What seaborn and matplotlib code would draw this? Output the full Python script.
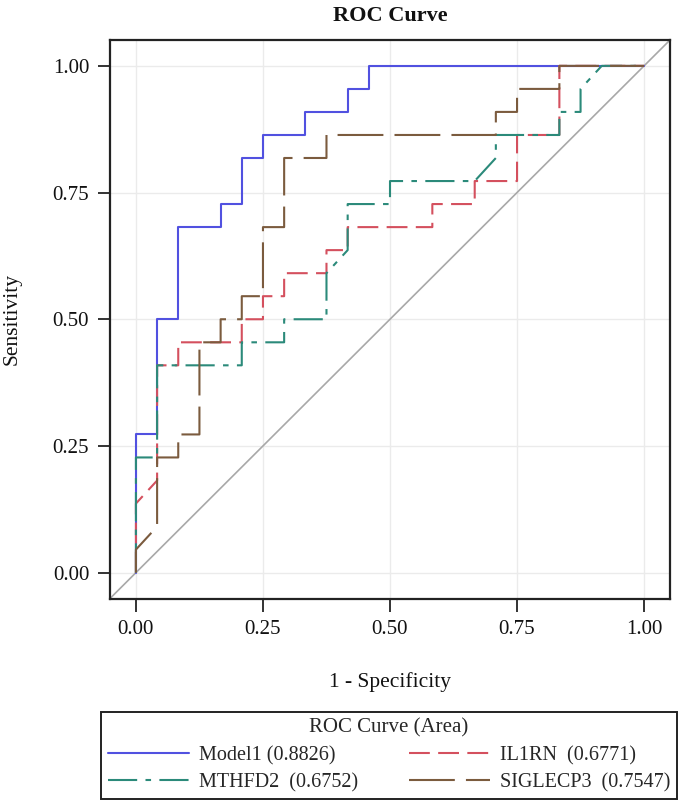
import numpy as np
import pandas as pd
import matplotlib
matplotlib.use("Agg")
import matplotlib.pyplot as plt
import seaborn as sns

# ---- data (ROC curve vertices) ----
model1_fpr = [0, 0, 0.0417, 0.0417, 0.0833, 0.0833, 0.1667, 0.1667, 0.2083, 0.2083,
              0.25, 0.25, 0.3333, 0.3333, 0.4167, 0.4167, 0.4583, 0.4583, 1]
model1_tpr = [0, 0.2727, 0.2727, 0.5, 0.5, 0.6818, 0.6818, 0.7273, 0.7273, 0.8182,
              0.8182, 0.8636, 0.8636, 0.9091, 0.9091, 0.9545, 0.9545, 1, 1]

il1rn_fpr = [0, 0, 0.0417, 0.0417, 0.0833, 0.0833, 0.2083, 0.2083, 0.25, 0.25,
             0.2917, 0.2917, 0.375, 0.375, 0.4167, 0.4167, 0.5833, 0.5833, 0.6667,
             0.6667, 0.75, 0.75, 0.8333, 0.8333, 1]
il1rn_tpr = [0, 0.1364, 0.1818, 0.4091, 0.4091, 0.4545, 0.4545, 0.5, 0.5, 0.5455,
             0.5455, 0.5909, 0.5909, 0.6364, 0.6364, 0.6818, 0.6818, 0.7273, 0.7273,
             0.7727, 0.7727, 0.8636, 0.8636, 1, 1]

mthfd2_fpr = [0, 0, 0.0417, 0.0417, 0.2083, 0.2083, 0.2917, 0.2917, 0.375, 0.375,
              0.4167, 0.4167, 0.5, 0.5, 0.6667, 0.7083, 0.7083, 0.8333, 0.8333,
              0.875, 0.875, 0.9167, 1]
mthfd2_tpr = [0, 0.2273, 0.2273, 0.4091, 0.4091, 0.4545, 0.4545, 0.5, 0.5, 0.5909,
              0.6364, 0.7273, 0.7273, 0.7727, 0.7727, 0.8182, 0.8636, 0.8636, 0.9091,
              0.9091, 0.9545, 1, 1]

siglecp3_fpr = [0, 0, 0.0417, 0.0417, 0.0833, 0.0833, 0.125, 0.125, 0.1667, 0.1667,
                0.2083, 0.2083, 0.25, 0.25, 0.2917, 0.2917, 0.375, 0.375, 0.7083,
                0.7083, 0.75, 0.75, 0.8333, 0.8333, 1]
siglecp3_tpr = [0, 0.0455, 0.0909, 0.2273, 0.2273, 0.2727, 0.2727, 0.4545, 0.4545, 0.5,
                0.5, 0.5455, 0.5455, 0.6818, 0.6818, 0.8182, 0.8182, 0.8636, 0.8636,
                0.9091, 0.9091, 0.9545, 0.9545, 1, 1]

labels = ["Model1 (0.8826)", "IL1RN  (0.6771)", "MTHFD2  (0.6752)", "SIGLECP3  (0.7547)"]
ticks = [0.00, 0.25, 0.50, 0.75, 1.00]
tick_labels = ["0.00", "0.25", "0.50", "0.75", "1.00"]

series = [
    (model1_fpr, model1_tpr, labels[0], "#5151E0", "-"),
    (il1rn_fpr, il1rn_tpr, labels[1], "#D4505E", (0, (15, 6))),
    (mthfd2_fpr, mthfd2_tpr, labels[2], "#2B8A7A", (0, (21, 6, 4, 6))),
    (siglecp3_fpr, siglecp3_tpr, labels[3], "#7B5B3E", (0, (33, 8))),
]

# ---- style ----
sns.set_style("white")
plt.rcParams["font.family"] = ["Liberation Serif", "DejaVu Serif"]
plt.rcParams["lines.scale_dashes"] = False

fig = plt.figure(figsize=(6.85, 8.06), dpi=100)
ax = fig.add_axes([110 / 685, 1 - 599 / 806, 560 / 685, 559.5 / 806])

ax.set_xlim(-0.051, 1.051)
ax.set_ylim(-0.052, 1.052)

for t in ticks:
    ax.axvline(t, color="#EBEBEB", lw=1.0, zorder=0)
    ax.axhline(t, color="#EBEBEB", lw=1.0, zorder=0)

ax.axline((0, 0), slope=1, color="#A8A8A8", lw=1.2, zorder=1)

for fpr, tpr, lab, col, ls in series:
    df = pd.DataFrame({"fpr": fpr, "tpr": tpr})
    sns.lineplot(data=df, x="fpr", y="tpr", sort=False, estimator=None, ax=ax,
                 color=col, linewidth=1.5, linestyle=ls, label=lab, zorder=3)

ax.set_xticks(ticks)
ax.set_yticks(ticks)
ax.set_xticklabels(tick_labels)
ax.set_yticklabels(tick_labels)
ax.tick_params(axis="both", direction="out", length=9, width=1.4, color="#333333",
               labelsize=15, pad=6, labelcolor="#111111", bottom=True, left=True)
for s in ax.spines.values():
    s.set_color("#222222")
    s.set_linewidth(1.6)

ax.set_xlabel("1 - Specificity", fontsize=15.5, labelpad=24, color="#111111")
ax.set_ylabel("Sensitivity", fontsize=15.5, labelpad=22, color="#111111")
ax.set_title("ROC Curve", fontsize=16, fontweight="bold", pad=13, color="#111111")

handles, labs = ax.get_legend_handles_labels()
ax.get_legend().remove()
order = [0, 2, 1, 3]
leg = fig.legend([handles[i] for i in order], [labs[i] for i in order],
                 loc="upper left", ncol=2, mode="expand",
                 bbox_to_anchor=(101 / 685, 1 - 801 / 806, 576 / 685, 89.5 / 806),
                 title="ROC Curve (Area)", fontsize=14.5, title_fontsize=15,
                 frameon=True, fancybox=False, handlelength=4.0, handletextpad=0.5,
                 labelspacing=0.4, borderpad=0.35, borderaxespad=0.0)
leg.get_frame().set_edgecolor("#222222")
leg.get_frame().set_linewidth(1.4)
leg.get_frame().set_alpha(1)

fig.savefig("out.png", dpi=100)
